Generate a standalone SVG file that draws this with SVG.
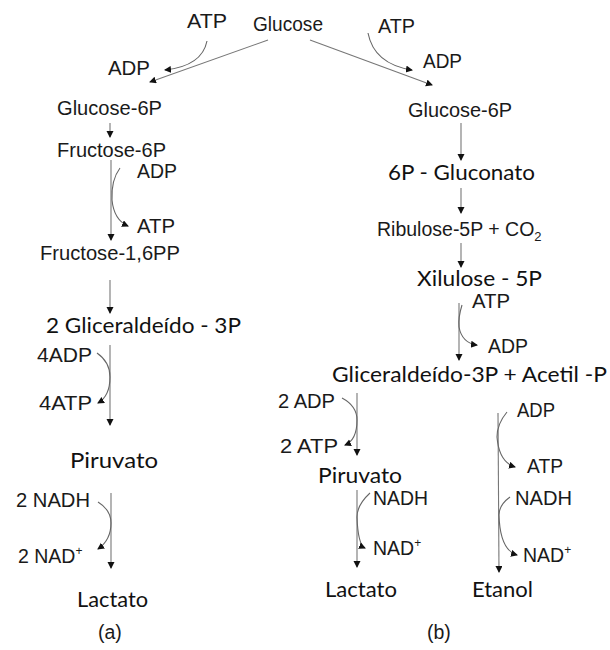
<svg xmlns="http://www.w3.org/2000/svg" width="610" height="650" viewBox="0 0 610 650">
<defs>
<marker id="ah" markerUnits="userSpaceOnUse" markerWidth="8" markerHeight="8" refX="6" refY="3.5" orient="auto">
<path d="M0,0 L7,3.5 L0,7 z" fill="#111"/>
</marker>
<style>
.a{font-family:"Liberation Sans",Arial,sans-serif;font-size:19.5px;fill:#1a1a1a}
.c{font-family:Lato,"Open Sans",sans-serif;font-size:21px;fill:#111}
.l{fill:none;stroke:#777;stroke-width:1.1;marker-end:url(#ah)}
.k{fill:none;stroke:#666;stroke-width:1.1;marker-end:url(#ah)}
</style>
</defs>
<rect width="610" height="650" fill="#fff"/>
<g id="connectors">
<path class="l" d="M268,40 L150,82"/>
<path class="l" d="M310,40 L432,85"/>
<path class="k" d="M207,41 Q202,66 165,70"/>
<path class="k" d="M368,33 Q374,64 412,70"/>
<path class="l" d="M110,123 L110,137"/>
<path class="l" d="M111,160 L111,240"/>
<path class="k" d="M120,168 Q111,180 112,200 Q114,220 128,226"/>
<path class="l" d="M110,280 L110,313"/>
<path class="l" d="M110,345 L110,425"/>
<path class="k" d="M97,353 Q110,362 110,377 Q110,396 98,403"/>
<path class="l" d="M111,493 L111,568"/>
<path class="k" d="M98,502 Q111,510 111,523 Q111,540 98,549"/>
<path class="l" d="M461,123 L461,160"/>
<path class="l" d="M461,188 L461,213"/>
<path class="l" d="M461,243 L461,267"/>
<path class="l" d="M459,303 L459,360"/>
<path class="k" d="M462,305 Q458,318 459,327 Q462,343 477,345"/>
<path class="l" d="M357,393 L357,455"/>
<path class="k" d="M342,398 Q357,406 357,420 Q357,440 345,445"/>
<path class="l" d="M498,413 L499,572"/>
<path class="k" d="M507,412 Q497,424 497,437 Q499,462 515,467"/>
<path class="l" d="M357,490 L357,567"/>
<path class="k" d="M370,493 Q357,505 357,517 Q358,545 365,548"/>
<path class="k" d="M510,497 Q499,505 499,515 Q500,550 517,555"/>
</g>
<g id="n-glucose"><text class="a" x="253" y="31" textLength="70" lengthAdjust="spacingAndGlyphs">Glucose</text></g>
<g id="n-atp-l"><text class="a" x="187" y="28" textLength="40" lengthAdjust="spacingAndGlyphs">ATP</text></g>
<g id="n-adp-l"><text class="a" x="108" y="75" textLength="42" lengthAdjust="spacingAndGlyphs">ADP</text></g>
<g id="n-atp-r"><text class="a" x="378" y="33" textLength="37" lengthAdjust="spacingAndGlyphs">ATP</text></g>
<g id="n-adp-r"><text class="a" x="423" y="68" textLength="39" lengthAdjust="spacingAndGlyphs">ADP</text></g>
<g id="a-g6p"><text class="a" x="57" y="115" textLength="105" lengthAdjust="spacingAndGlyphs">Glucose-6P</text></g>
<g id="a-f6p"><text class="a" x="57" y="157" textLength="109" lengthAdjust="spacingAndGlyphs">Fructose-6P</text></g>
<g id="a-adp1"><text class="a" x="137" y="178" textLength="40" lengthAdjust="spacingAndGlyphs">ADP</text></g>
<g id="a-atp1"><text class="a" x="137" y="233" textLength="38" lengthAdjust="spacingAndGlyphs">ATP</text></g>
<g id="a-f16pp"><text class="a" x="40" y="260" textLength="140" lengthAdjust="spacingAndGlyphs">Fructose-1,6PP</text></g>
<g id="a-gli"><text class="c" x="46" y="333" textLength="195" lengthAdjust="spacingAndGlyphs">2 Gliceraldeído - 3P</text></g>
<g id="a-4adp"><text class="a" x="37" y="362" textLength="55" lengthAdjust="spacingAndGlyphs">4ADP</text></g>
<g id="a-4atp"><text class="a" x="39" y="410" textLength="53" lengthAdjust="spacingAndGlyphs">4ATP</text></g>
<g id="a-piruvato"><text class="c" x="70" y="468" textLength="88" lengthAdjust="spacingAndGlyphs">Piruvato</text></g>
<g id="a-nadh"><text class="a" x="16" y="507" textLength="74" lengthAdjust="spacingAndGlyphs">2 NADH</text></g>
<g id="a-nad"><text class="a" x="18" y="563">2 NAD<tspan font-size="12" dy="-8">+</tspan></text></g>
<g id="a-lactato"><text class="c" x="77" y="607" textLength="71" lengthAdjust="spacingAndGlyphs">Lactato</text></g>
<g id="label-a"><text class="a" x="98" y="639" font-size="18">(a)</text></g>
<g id="b-g6p"><text class="a" x="408" y="117" textLength="104" lengthAdjust="spacingAndGlyphs">Glucose-6P</text></g>
<g id="b-gluconato"><text class="c" x="388" y="180" textLength="147" lengthAdjust="spacingAndGlyphs">6P - Gluconato</text></g>
<g id="b-ribulose"><text class="a" x="377" y="236" font-size="20">Ribulose-5P + CO<tspan font-size="13" dy="5">2</tspan></text></g>
<g id="b-xilulose"><text class="c" x="417" y="286" textLength="125" lengthAdjust="spacingAndGlyphs">Xilulose - 5P</text></g>
<g id="b-atp1"><text class="a" x="472" y="308" textLength="38" lengthAdjust="spacingAndGlyphs">ATP</text></g>
<g id="b-adp1"><text class="a" x="488" y="353" textLength="40" lengthAdjust="spacingAndGlyphs">ADP</text></g>
<g id="b-gli"><text class="c" x="332" y="382" textLength="275" lengthAdjust="spacingAndGlyphs">Gliceraldeído-3P + Acetil -P</text></g>
<g id="b-2adp"><text class="a" x="278" y="408" textLength="57" lengthAdjust="spacingAndGlyphs">2 ADP</text></g>
<g id="b-2atp"><text class="a" x="280" y="453" textLength="58" lengthAdjust="spacingAndGlyphs">2 ATP</text></g>
<g id="b-adp2"><text class="a" x="517" y="417" textLength="38" lengthAdjust="spacingAndGlyphs">ADP</text></g>
<g id="b-atp2"><text class="a" x="527" y="473" textLength="36" lengthAdjust="spacingAndGlyphs">ATP</text></g>
<g id="b-piruvato"><text class="c" x="318" y="483" textLength="84" lengthAdjust="spacingAndGlyphs">Piruvato</text></g>
<g id="b-nadh1"><text class="a" x="373" y="505" textLength="55" lengthAdjust="spacingAndGlyphs">NADH</text></g>
<g id="b-nad1"><text class="a" x="373" y="555">NAD<tspan font-size="12" dy="-8">+</tspan></text></g>
<g id="b-nadh2"><text class="a" x="515" y="505" textLength="57" lengthAdjust="spacingAndGlyphs">NADH</text></g>
<g id="b-nad2"><text class="a" x="523" y="562">NAD<tspan font-size="12" dy="-8">+</tspan></text></g>
<g id="b-lactato"><text class="c" x="325" y="597" textLength="72" lengthAdjust="spacingAndGlyphs">Lactato</text></g>
<g id="b-etanol"><text class="c" x="472" y="597" textLength="61" lengthAdjust="spacingAndGlyphs">Etanol</text></g>
<g id="label-b"><text class="a" x="427" y="639" font-size="18">(b)</text></g>
</svg>
